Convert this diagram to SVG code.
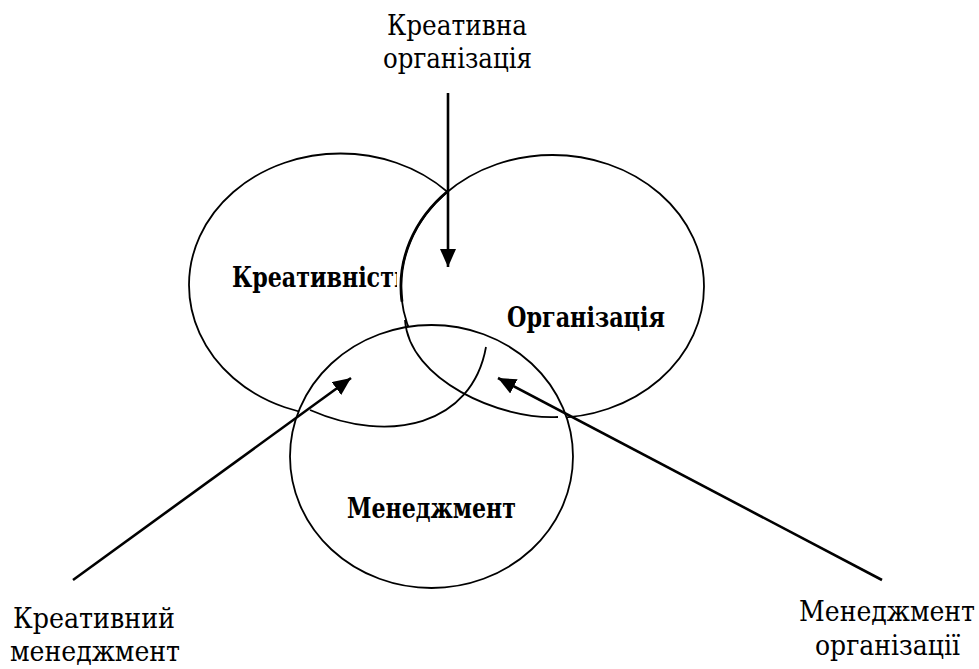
<svg xmlns="http://www.w3.org/2000/svg" width="979" height="669" viewBox="0 0 979 669">
<style>
.sh{fill:#fff;stroke:#000;stroke-width:1.8}
.ln{fill:none;stroke:#000;stroke-width:1.8}
.ar{fill:none;stroke:#000;stroke-width:2.6}
text{font-family:"DejaVu Serif Condensed","DejaVu Serif",serif;fill:#000}
.lbl{font-size:28px;text-anchor:middle}
.bt{font-size:28px;font-weight:bold}
</style>
<defs>
<marker id="ah" markerUnits="userSpaceOnUse" markerWidth="18" markerHeight="16" viewBox="0 0 18 16" refX="18" refY="8" orient="auto">
<path d="M0,0 L18,8 L0,16 Z" fill="#000"/>
</marker>
<clipPath id="clipK"><rect x="200" y="250" width="197" height="60"/></clipPath>
</defs>
<g id="creativity">
<ellipse class="sh" cx="340.5" cy="285" rx="151.5" ry="131.5"/>
<text class="bt" x="232" y="287" textLength="177" lengthAdjust="spacingAndGlyphs" clip-path="url(#clipK)">Креативність</text>
</g>
<g id="organization">
<ellipse class="sh" cx="552.5" cy="286.5" rx="151.5" ry="131.5"/>
<path class="ln" style="stroke-width:2.8" d="M448,191 A151.5,131.5 0 0 0 402,301.6"/>
<text class="bt" x="507" y="327" textLength="158" lengthAdjust="spacingAndGlyphs">Організація</text>
</g>
<g id="management">
<ellipse class="sh" cx="431.5" cy="456.5" rx="141.5" ry="131.5"/>
<text class="bt" x="347" y="518" textLength="169" lengthAdjust="spacingAndGlyphs">Менеджмент</text>
</g>
<g id="overlap-arcs">
<path class="ln" d="M310,410 C390,445 472,425 486,347"/>
<path class="ln" d="M405,320 C409,380 500,420 558,417"/>
</g>
<g id="connectors">
<line class="ar" x1="448" y1="93" x2="448" y2="267" marker-end="url(#ah)"/>
<line class="ar" x1="73" y1="580" x2="351" y2="378" marker-end="url(#ah)"/>
<line class="ar" x1="882" y1="580" x2="498" y2="378" marker-end="url(#ah)"/>
</g>
<g id="label-creative-org">
<text class="lbl" x="457" y="35" textLength="140" lengthAdjust="spacingAndGlyphs">Креативна</text>
<text class="lbl" x="457.5" y="68" textLength="149" lengthAdjust="spacingAndGlyphs">організація</text>
</g>
<g id="label-creative-mgmt">
<text class="lbl" x="94" y="628" textLength="162" lengthAdjust="spacingAndGlyphs">Креативний</text>
<text class="lbl" x="95" y="661" textLength="170" lengthAdjust="spacingAndGlyphs">менеджмент</text>
</g>
<g id="label-org-mgmt">
<text class="lbl" x="887" y="621" textLength="176" lengthAdjust="spacingAndGlyphs">Менеджмент</text>
<text class="lbl" x="887.5" y="655" textLength="145" lengthAdjust="spacingAndGlyphs">організації</text>
</g>
</svg>
